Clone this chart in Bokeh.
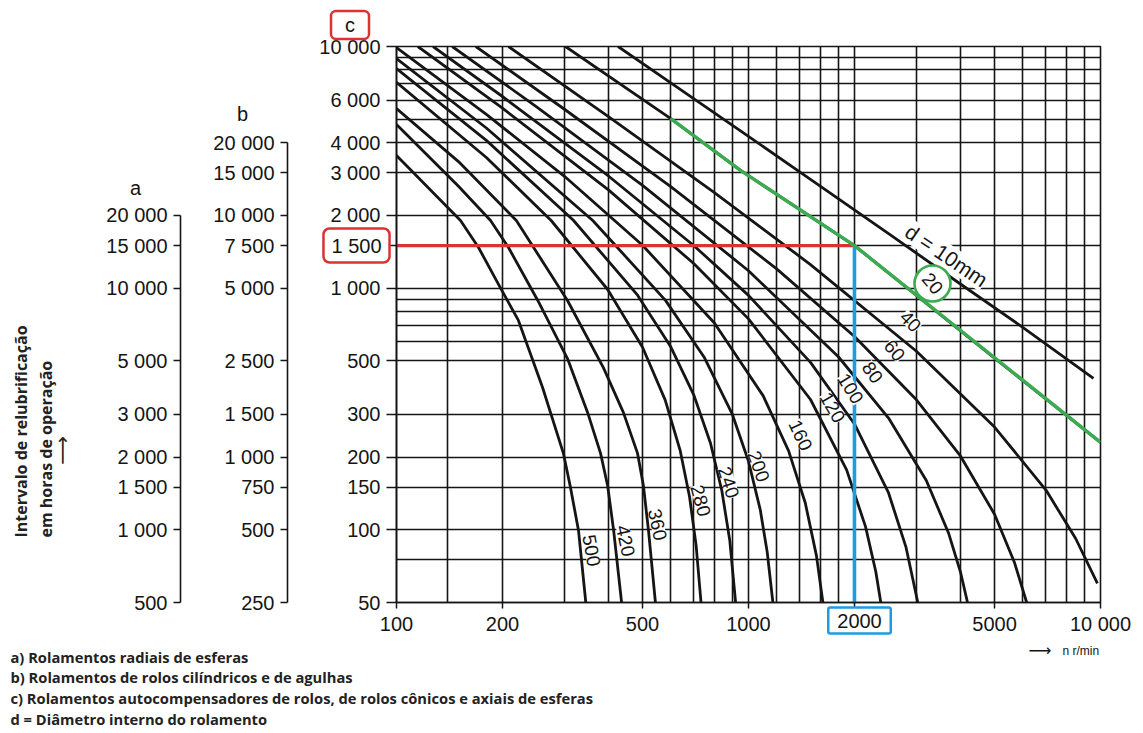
from bokeh.plotting import figure
from bokeh.models import Range1d, FixedTicker, Label, Spacer
from bokeh.layouts import row, column
from bokeh.embed import file_html
from bokeh.resources import INLINE

# ---------------- data ----------------
speed_ticks = [100, 200, 500, 1000, 2000, 5000, 10000]
speed_tick_labels = ["100", "200", "500", "1000", "2000", "5000", "10 000"]
speed_grid = [100, 140, 200, 300, 400, 500, 600, 700, 800, 900, 1000, 1200, 1400,
              1600, 1800, 2000, 3000, 4000, 5000, 6000, 7000, 8000, 9000, 10000]

hours_c_ticks = [50, 100, 150, 200, 300, 500, 1000, 1500, 2000, 3000, 4000, 6000, 10000]
hours_c_labels = ["50", "100", "150", "200", "300", "500", "1 000", "1 500", "2 000",
                  "3 000", "4 000", "6 000", "10 000"]
hours_grid = [50, 75, 100, 150, 200, 300, 500, 600, 700, 800, 900, 1000, 1500, 2000,
              3000, 4000, 5000, 6000, 7000, 8000, 9000, 10000]
hours_a_ticks = [500, 1000, 1500, 2000, 3000, 5000, 10000, 15000, 20000]
hours_a_labels = ["500", "1 000", "1 500", "2 000", "3 000", "5 000", "10 000", "15 000", "20 000"]
hours_b_ticks = [250, 500, 750, 1000, 1500, 2500, 5000, 7500, 10000, 15000, 20000]
hours_b_labels = ["250", "500", "750", "1 000", "1 500", "2 500", "5 000", "7 500",
                  "10 000", "15 000", "20 000"]
scale_a = 10   # a = 10 x c
scale_b = 5    # b = 5 x c

# relubrication curves: speed n (r/min) and interval on scale c (h)
n_d10 = [426, 600, 949, 1500, 2500, 4000, 6000, 9550]
t_d10 = [10000, 7090, 4475, 2820, 1680, 1040, 690, 423]
n_d20 = [302, 600, 949, 2000, 5000, 10000]
t_d20 = [10000, 5040, 3070, 1500, 513, 230]
n_d40 = [208, 400, 800, 1500, 3000, 5000, 7000, 8500, 9800]
t_d40 = [10000, 5125, 2484, 1252, 548, 266, 146, 92, 60]
n_d60 = [168, 300, 600, 1200, 2000, 3000, 4000, 5000, 5700, 6170]
t_d60 = [10000, 5500, 2636, 1204, 631, 345, 202, 116, 73, 50]
n_d80 = [144, 250, 500, 1000, 1800, 2500, 3200, 3700, 4000, 4190]
t_d80 = [10000, 5630, 2664, 1180, 520, 290, 160, 97, 67, 50]
n_d100 = [127, 200, 400, 700, 1000, 1500, 2000, 2500, 2800, 3027]
t_d100 = [10000, 6210, 2912, 1498, 933, 493, 274, 142, 85, 50]
n_d120 = [115, 200, 400, 700, 1000, 1500, 1900, 2150, 2300, 2376]
t_d120 = [10000, 5556, 2550, 1262, 746, 346, 177, 103, 67, 50]
n_d160 = [100, 180, 300, 500, 800, 1100, 1300, 1450, 1560, 1627]
t_d160 = [9900, 5236, 2903, 1504, 717, 359, 212, 129, 78, 50]
n_d200 = [100, 180, 361, 581, 750, 900, 1000, 1080, 1130, 1173]
t_d200 = [8900, 4600, 1906, 890, 515, 300, 192, 121, 81, 50]
n_d240 = [100, 180, 318, 484, 600, 700, 780, 840, 885, 919]
t_d240 = [8100, 4087, 1910, 935, 575, 360, 228, 145, 90, 50]
n_d280 = [100, 180, 275, 398, 500, 580, 640, 680, 710, 733]
t_d280 = [7100, 3471, 1905, 987, 569, 344, 212, 137, 86, 50]
n_d360 = [100, 150, 219, 306, 387, 441, 484, 503, 520, 544]
t_d360 = [5540, 3340, 1906, 889, 469, 306, 207, 152, 99, 50]
n_d420 = [100, 150, 185, 208, 252, 306, 349, 380, 398, 414, 436]
t_d420 = [4760, 2640, 1906, 1473, 889, 511, 306, 207, 152, 99, 50]
n_d500 = [100, 152, 171, 197, 222, 240, 260, 298, 312, 329, 345]
t_d500 = [3540, 1906, 1473, 1007, 735, 536, 388, 207, 150, 99, 50]

curve_label_text = ["d = 10mm", "20", "40", "60", "80", "100", "120", "160",
                    "200", "240", "280", "360", "420", "500"]
curve_label_n = [3651, 3332, 2885, 2599, 2250, 1949, 1732, 1405, 1068, 878, 731, 551, 447, 358]
curve_label_t = [1365, 1045, 728, 552, 448, 384, 321, 246, 183, 157, 132, 105, 90, 82]
curve_label_angle = [-34, -50, -45, -50, -55, -58, -60, -65, -70, -72, -75, -78, -78, -80]

# worked example: d = 20 mm, n = 2000 r/min -> 1 500 h
green_n = [600, 949, 2000, 10000]
green_t = [5040, 3070, 1500, 230]
example_speed = 2000
example_hours = 1500

axis_title_lines = ["Intervalo de relubrificação", "em horas de operação"]
legend_lines = [
    "a) Rolamentos radiais de esferas",
    "b) Rolamentos de rolos cilíndricos e de agulhas",
    "c) Rolamentos autocompensadores de rolos, de rolos cônicos e axiais de esferas",
    "d = Diâmetro interno do rolamento",
]

# ---------------- styling / layout ----------------
TICK_FONT = "Liberation Sans"
TICK_SIZE = "20px"
INK = "#151515"
RED = "#dc3232"
BLUE = "#1f9be0"
GREEN = "#3caa50"
W_A, W_B, W_C = 197, 109, 835
ROW_H = 640
TOP = 46
BOTTOM = 38
PAGE_W = W_A + W_B + W_C
OVER_H = 731


def side_axis_fig(width, left, ticks, labels, factor):
    p = figure(width=width, height=ROW_H, y_axis_type="log",
               x_range=Range1d(0, 1), y_range=Range1d(50 * factor, 10000 * factor),
               x_axis_location=None, y_axis_location="left",
               output_backend="svg", toolbar_location=None,
               min_border_left=left, min_border_right=0,
               min_border_top=TOP, min_border_bottom=BOTTOM)
    p.outline_line_color = None
    p.grid.visible = False
    ax = p.yaxis[0]
    ax.ticker = FixedTicker(ticks=ticks)
    ax.major_label_overrides = {t: l for t, l in zip(ticks, labels)}
    ax.bounds = (ticks[0], ticks[-1])
    ax.minor_tick_line_color = None
    ax.major_tick_out = 7
    ax.major_tick_in = 0
    ax.major_tick_line_width = 1.5
    ax.axis_line_width = 1.6
    ax.axis_line_color = INK
    ax.major_tick_line_color = INK
    ax.major_label_text_font = TICK_FONT
    ax.major_label_text_font_size = TICK_SIZE
    ax.major_label_text_color = INK
    ax.major_label_standoff = 6
    return p


pa = side_axis_fig(W_A, 180, hours_a_ticks, hours_a_labels, scale_a)
pb = side_axis_fig(W_B, 90, hours_b_ticks, hours_b_labels, scale_b)

# ---------------- main nomogram ----------------
pc = figure(width=W_C, height=ROW_H, x_axis_type="log", y_axis_type="log",
            x_range=Range1d(100, 10000), y_range=Range1d(50, 10000),
            output_backend="svg", toolbar_location=None,
            min_border_left=90, min_border_right=W_C - 90 - 704,
            min_border_top=TOP, min_border_bottom=BOTTOM)
pc.outline_line_color = INK
pc.outline_line_width = 1.6
pc.background_fill_color = "white"

pc.xgrid.ticker = FixedTicker(ticks=speed_grid)
pc.ygrid.ticker = FixedTicker(ticks=hours_grid)
for g in (pc.xgrid[0], pc.ygrid[0]):
    g.grid_line_color = INK
    g.grid_line_width = 1.6
    g.grid_line_alpha = 1.0

xa = pc.xaxis[0]
xa.ticker = FixedTicker(ticks=speed_ticks)
xa.major_label_overrides = {t: ("" if t == example_speed else l)
                            for t, l in zip(speed_ticks, speed_tick_labels)}
ya = pc.yaxis[0]
ya.ticker = FixedTicker(ticks=hours_c_ticks)
ya.major_label_overrides = {t: ("" if t == example_hours else l)
                            for t, l in zip(hours_c_ticks, hours_c_labels)}
for ax, out, so in ((xa, 6, 4), (ya, 10, 6)):
    ax.minor_tick_line_color = None
    ax.major_tick_out = out
    ax.major_tick_in = 0
    ax.major_tick_line_width = 1.5
    ax.major_tick_line_color = INK
    ax.axis_line_width = 1.6
    ax.axis_line_color = INK
    ax.major_label_text_font = TICK_FONT
    ax.major_label_text_font_size = TICK_SIZE
    ax.major_label_text_color = INK
    ax.major_label_standoff = so

curves = [(n_d10, t_d10), (n_d20, t_d20), (n_d40, t_d40), (n_d60, t_d60),
          (n_d80, t_d80), (n_d100, t_d100), (n_d120, t_d120), (n_d160, t_d160),
          (n_d200, t_d200), (n_d240, t_d240), (n_d280, t_d280), (n_d360, t_d360),
          (n_d420, t_d420), (n_d500, t_d500)]
for ns, ts in curves:
    pc.line(ns, ts, line_color=INK, line_width=2.8, line_join="round")

# worked example lines
pc.line([speed_ticks[0], example_speed], [example_hours, example_hours],
        line_color=RED, line_width=3.2)
pc.line([example_speed, example_speed], [hours_c_ticks[0], example_hours],
        line_color=BLUE, line_width=3.6)
pc.line(green_n, green_t, line_color=GREEN, line_width=3.4)

# circle around the "20" label
pc.scatter([curve_label_n[1]], [curve_label_t[1]], marker="circle", size=36,
           fill_color="white", line_color=GREEN, line_width=2.6)

for i, (txt_, n, t, ang) in enumerate(zip(curve_label_text, curve_label_n,
                                          curve_label_t, curve_label_angle)):
    pc.add_layout(Label(x=n, y=t, text=txt_, angle=ang, angle_units="deg",
                        text_align="center", text_baseline="middle",
                        text_font=TICK_FONT,
                        text_font_size="21px" if i == 0 else "19px", text_color=INK,
                        background_fill_color=None if i == 1 else "white",
                        background_fill_alpha=1.0))

# ---------------- transparent overlay for texts outside the plot frames ----------------
po = figure(width=PAGE_W, height=OVER_H, x_range=Range1d(0, PAGE_W),
            y_range=Range1d(OVER_H, 0), output_backend="svg", toolbar_location=None,
            x_axis_location=None, y_axis_location=None, min_border=0,
            styles={"position": "absolute", "left": "0px", "top": "0px",
                    "z-index": "5", "pointer-events": "none"})
po.outline_line_color = None
po.grid.visible = False
po.background_fill_alpha = 0
po.border_fill_alpha = 0


def txt(x, y, s, **kw):
    opts = dict(text_align="center", text_baseline="middle", text_font=TICK_FONT,
                text_font_size=TICK_SIZE, text_color=INK)
    opts.update(kw)
    po.add_layout(Label(x=x, y=y, text=s, **opts))


# scale letters
txt(135, 187, "a")
txt(242, 113, "b")
txt(349.5, 24.5, "c", border_line_color=RED, border_line_width=2.5, border_radius=5,
    padding=dict(left=14, right=14, top=3, bottom=3), background_fill_color="white")
# boxed example values on the c scale and the speed scale
txt(356, 245, hours_c_labels[hours_c_ticks.index(example_hours)],
    border_line_color=RED, border_line_width=2.5, border_radius=6,
    padding=dict(left=8, right=8, top=6, bottom=6), background_fill_color="white")
txt(859, 620, speed_tick_labels[speed_ticks.index(example_speed)],
    border_line_color=BLUE, border_line_width=2.5, border_radius=2,
    padding=dict(left=9, right=9, top=6, bottom=6), background_fill_color="white")

# vertical axis title
TITLE_STYLE = dict(text_font="Open Sans", text_font_style="bold",
                   text_font_size="16px", text_color="#222222")
txt(20, 537, axis_title_lines[0], angle=90, angle_units="deg", text_align="left", **TITLE_STYLE)
txt(45, 537, axis_title_lines[1], angle=90, angle_units="deg", text_align="left", **TITLE_STYLE)
txt(61, 450, "⟶", angle=90, angle_units="deg", text_font="DejaVu Sans",
    text_font_size="20px", text_color="#222222")

# speed axis caption
txt(1028, 650, "⟶", text_align="left", text_font="DejaVu Sans", text_font_size="16px")
txt(1062, 650, "n r/min", text_align="left", text_font_size="12px")

# notes
for i, line in enumerate(legend_lines):
    txt(10, 656 + 20.7 * i, line, text_align="left", text_font="Open Sans",
        text_font_style="bold", text_font_size="14.7px", text_color="#222222")

layout = column(row(pa, pb, pc), Spacer(width=PAGE_W, height=OVER_H - ROW_H), po)
open("out.html", "w").write(file_html(layout, INLINE))
